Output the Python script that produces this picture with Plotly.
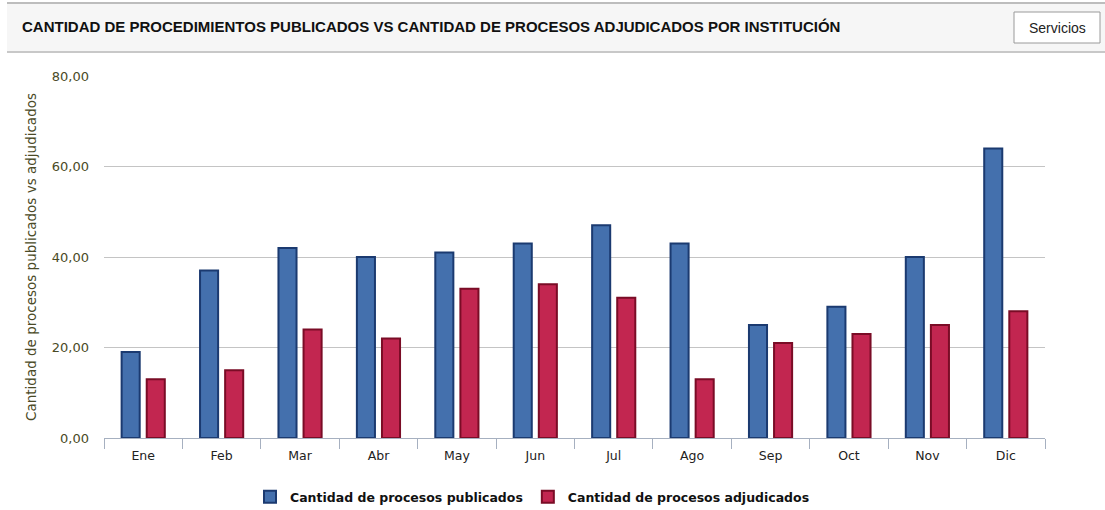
import plotly.graph_objects as go

meses = ["Ene", "Feb", "Mar", "Abr", "May", "Jun", "Jul", "Ago", "Sep", "Oct", "Nov", "Dic"]
publicados = [19, 37, 42, 40, 41, 43, 47, 43, 25, 29, 40, 64]
adjudicados = [13, 15, 24, 22, 33, 34, 31, 13, 21, 23, 25, 28]
y_ticks = [0, 20, 40, 60, 80]

titulo = "CANTIDAD DE PROCEDIMIENTOS PUBLICADOS VS CANTIDAD DE PROCESOS ADJUDICADOS POR INSTITUCIÓN"

W, H = 1105, 510
L, R, T, B = 104, 1045, 76, 438


def px_x(x):
    return (x - L) / (R - L)


def px_y(y):
    return (B - y) / (B - T)


fig = go.Figure()
fig.add_trace(go.Bar(
    x=meses, y=publicados, name="Cantidad de procesos publicados",
    marker=dict(color="#4470ad", line=dict(color="#1b3a70", width=2)),
))
fig.add_trace(go.Bar(
    x=meses, y=adjudicados, name="Cantidad de procesos adjudicados",
    marker=dict(color="#c22650", line=dict(color="#7a0c26", width=2)),
))

shapes = [
    # header bar
    dict(type="rect", xref="paper", yref="paper",
         x0=px_x(7), x1=px_x(1105), y0=px_y(52), y1=px_y(3),
         fillcolor="#f6f6f6", line=dict(width=0), layer="below"),
    dict(type="line", xref="paper", yref="paper",
         x0=px_x(7), x1=px_x(1105), y0=px_y(3), y1=px_y(3),
         line=dict(color="#bdbdbd", width=2)),
    dict(type="line", xref="paper", yref="paper",
         x0=px_x(7), x1=px_x(1105), y0=px_y(52), y1=px_y(52),
         line=dict(color="#c8c8c8", width=2)),
    # button
    dict(type="rect", xref="paper", yref="paper",
         x0=px_x(1014), x1=px_x(1100), y0=px_y(43), y1=px_y(12),
         fillcolor="#ffffff", line=dict(color="#9a9a9a", width=1)),
]

annotations = [
    dict(text="<b>" + titulo + "</b>", xref="paper", yref="paper",
         x=px_x(20), y=px_y(27), xanchor="left", yanchor="middle", showarrow=False,
         font=dict(family="Liberation Sans, Arial", size=15, color="#111111")),
    dict(text="Servicios", xref="paper", yref="paper",
         x=px_x(1057), y=px_y(27.5), xanchor="center", yanchor="middle", showarrow=False,
         font=dict(family="Liberation Sans, Arial", size=14, color="#222222")),
]

fig.update_layout(
    width=W, height=H,
    margin=dict(l=L, r=W - R, t=T, b=H - B, autoexpand=False),
    paper_bgcolor="white", plot_bgcolor="white",
    barmode="group", bargap=0.36, bargroupgap=0.28,
    separators=",.",
    shapes=shapes, annotations=annotations,
    showlegend=True,
    legend=dict(orientation="h", x=px_x(250), xanchor="left", y=px_y(497), yanchor="middle",
                font=dict(family="DejaVu Sans", size=12.5, color="#111111", weight="bold"),
                traceorder="normal"),
    font=dict(family="DejaVu Sans", size=12, color="#333333"),
)

fig.update_xaxes(
    showgrid=False, showline=True, linecolor="#a6b0c0", linewidth=1,
    ticks="outside", tickson="boundaries", ticklen=10, tickcolor="#a6b0c0",
    ticklabelstandoff=6,
    tickfont=dict(family="DejaVu Sans", size=12.5, color="#222222"),
)
fig.update_yaxes(
    range=[0, 80], tickvals=y_ticks, tickformat=".2f",
    showgrid=True, gridcolor="#c4c4c4", gridwidth=1, zeroline=False,
    tickfont=dict(family="DejaVu Sans", size=13, color="#4a4a26"),
    ticklabelstandoff=14,
    title=dict(text="Cantidad de procesos publicados vs adjudicados", standoff=12,
               font=dict(family="DejaVu Sans", size=13.5, color="#4a4a26")),
)

# the page body has a default 8px margin; remove it so the figure fills the window
fig.write_html("out.html", config={"displayModeBar": False},
               post_script="document.body.style.margin='0px';")
